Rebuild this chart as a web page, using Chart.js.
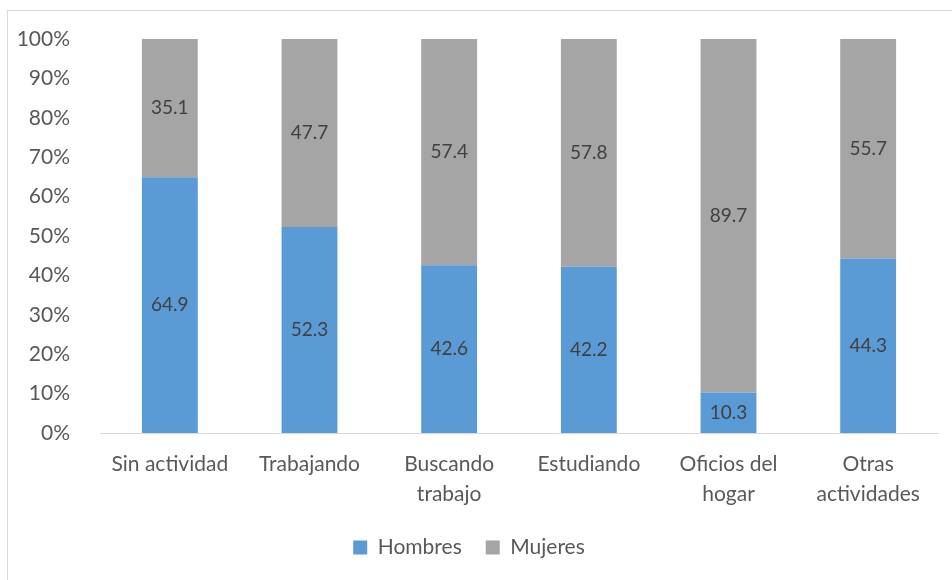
<!DOCTYPE html>
<html>
<head>
<meta charset="utf-8">
<script src="https://cdn.jsdelivr.net/npm/chart.js@4"></script>
<style>
  body { margin: 0; background: #fff; }
  #frame { position: absolute; left: 7px; top: 10px; width: 960px; height: 600px; border: 1px solid #d9d9d9; }
  #wrap { position: absolute; left: 0; top: 0; width: 952px; height: 580px; }
</style>
</head>
<body>
<div id="frame"></div>
<div id="wrap"><canvas id="myChart" width="952" height="580"></canvas></div>
<script>
const categories = ["Sin actividad", "Trabajando", ["Buscando", "trabajo"], "Estudiando", ["Oficios del", "hogar"], ["Otras", "actividades"]];
const hombres = [64.9, 52.3, 42.6, 42.2, 10.3, 44.3];
const mujeres = [35.1, 47.7, 57.4, 57.8, 89.7, 55.7];
const yTicks = [0, 10, 20, 30, 40, 50, 60, 70, 80, 90, 100];

Chart.defaults.font.family = "Lato, 'Open Sans', sans-serif";
Chart.defaults.font.size = 21;
Chart.defaults.color = "#595959";

// draw the value in the middle of every bar
const barLabels = {
  id: "barLabels",
  afterDatasetsDraw(chart) {
    const c = chart.ctx;
    c.save();
    c.font = "19px Lato, 'Open Sans', sans-serif";
    c.fillStyle = "#404040";
    c.textAlign = "center";
    c.textBaseline = "middle";
    chart.data.datasets.forEach((ds, i) => {
      chart.getDatasetMeta(i).data.forEach((bar, j) => {
        const mid = (bar.y + bar.base) / 2;
        c.fillText(ds.data[j].toFixed(1), bar.x, mid);
      });
    });
    c.restore();
  },
};

const ctx = document.getElementById("myChart");
const myChart = new Chart(ctx, {
  type: "bar",
  data: {
    labels: categories,
    datasets: [
      { label: "Hombres", data: hombres, backgroundColor: "#5b9bd5", barPercentage: 0.4, categoryPercentage: 1.0 },
      { label: "Mujeres", data: mujeres, backgroundColor: "#a5a5a5", barPercentage: 0.4, categoryPercentage: 1.0 },
    ],
  },
  options: {
    responsive: false,
    animation: false,
    layout: { padding: { left: 0, right: 14, top: 39, bottom: 12 } },
    plugins: {
      legend: {
        position: "bottom",
        labels: { boxWidth: 14, boxHeight: 14, padding: 24 },
      },
      tooltip: { enabled: false },
    },
    scales: {
      x: {
        stacked: true,
        grid: { display: false },
        border: { color: "#d9d9d9", width: 1 },
        ticks: { padding: 9, maxRotation: 0, font: { lineHeight: 1.4 } },
        afterFit: (scale) => { scale.height = 80; },
      },
      y: {
        stacked: true,
        min: 0,
        max: 100,
        grid: { display: false },
        border: { display: false },
        afterBuildTicks: (scale) => { scale.ticks = yTicks.map((v) => ({ value: v })); },
        afterFit: (scale) => { scale.width = 100; },
        ticks: { padding: 22, callback: (v) => v + "%" },
      },
    },
  },
  plugins: [barLabels],
});
</script>
</body>
</html>
